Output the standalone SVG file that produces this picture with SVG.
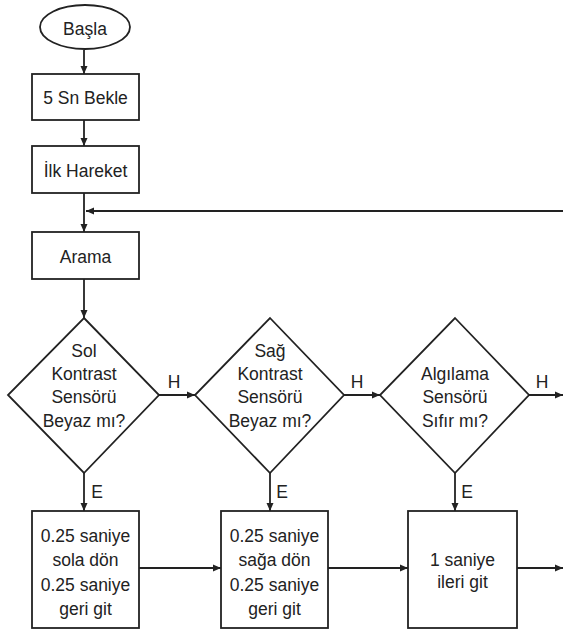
<svg xmlns="http://www.w3.org/2000/svg" width="563" height="630" viewBox="0 0 563 630">
<defs>
<style>
.s{fill:#fff;stroke:#222;stroke-width:1.8}
.c{fill:none;stroke:#222;stroke-width:1.8}
text{font-family:"Liberation Sans",Arial,sans-serif;font-size:17.5px;fill:#222;text-anchor:middle}
.l{text-anchor:start}
</style>
<marker id="a" markerUnits="userSpaceOnUse" markerWidth="8" markerHeight="8" refX="8" refY="4" orient="auto">
<path d="M0,0.5 L8,4 L0,7.5 z" fill="#222"/>
</marker>
</defs>
<rect width="563" height="630" fill="#fff"/>
<g id="connectors">
<line class="c" x1="84" y1="50" x2="84" y2="74" marker-end="url(#a)"/>
<line class="c" x1="84" y1="120" x2="84" y2="146" marker-end="url(#a)"/>
<line class="c" x1="84" y1="193" x2="84" y2="232" marker-end="url(#a)"/>
<line class="c" x1="563" y1="211" x2="86" y2="211" marker-end="url(#a)"/>
<line class="c" x1="84" y1="279" x2="84" y2="318" marker-end="url(#a)"/>
<line class="c" x1="159" y1="395" x2="195" y2="395" marker-end="url(#a)"/>
<line class="c" x1="344" y1="395" x2="380" y2="395" marker-end="url(#a)"/>
<line class="c" x1="529" y1="395" x2="563" y2="395" marker-end="url(#a)"/>
<line class="c" x1="84" y1="473" x2="84" y2="511" marker-end="url(#a)"/>
<line class="c" x1="270" y1="473" x2="270" y2="511" marker-end="url(#a)"/>
<line class="c" x1="455" y1="473" x2="455" y2="511" marker-end="url(#a)"/>
<line class="c" x1="139" y1="568" x2="221" y2="568" marker-end="url(#a)"/>
<line class="c" x1="328" y1="568" x2="408" y2="568" marker-end="url(#a)"/>
<line class="c" x1="517" y1="568" x2="563" y2="568" marker-end="url(#a)"/>
<text x="174" y="388">H</text>
<text x="357" y="388">H</text>
<text x="542" y="388">H</text>
<text x="97" y="498">E</text>
<text x="282" y="498">E</text>
<text x="467" y="498">E</text>
</g>
<g id="basla">
<ellipse class="s" cx="85" cy="27" rx="45" ry="22"/>
<text x="85" y="35">Başla</text>
</g>
<g id="bekle">
<rect class="s" x="32" y="74" width="107" height="46"/>
<text x="85.5" y="104">5 Sn Bekle</text>
</g>
<g id="ilk">
<rect class="s" x="32" y="146" width="107" height="47"/>
<text x="85.5" y="177">İlk Hareket</text>
</g>
<g id="arama">
<rect class="s" x="32" y="232" width="107" height="47"/>
<text x="85.5" y="263">Arama</text>
</g>
<g id="d1">
<polygon class="s" points="84,318 159,395 84,473 8,395"/>
<text x="84" y="357">Sol</text>
<text x="84" y="380">Kontrast</text>
<text x="84" y="403">Sensörü</text>
<text x="84" y="427">Beyaz mı?</text>
</g>
<g id="d2">
<polygon class="s" points="270,318 344,395 270,473 195,395"/>
<text x="270" y="357">Sağ</text>
<text x="270" y="380">Kontrast</text>
<text x="270" y="403">Sensörü</text>
<text x="270" y="427">Beyaz mı?</text>
</g>
<g id="d3">
<polygon class="s" points="455,318 529,395 455,473 380,395"/>
<text x="455" y="380">Algılama</text>
<text x="455" y="403">Sensörü</text>
<text x="455" y="427">Sıfır mı?</text>
</g>
<g id="b1">
<rect class="s" x="32" y="511" width="107" height="117"/>
<text x="85.5" y="542">0.25 saniye</text>
<text x="85.5" y="566">sola dön</text>
<text x="85.5" y="591">0.25 saniye</text>
<text x="85.5" y="615">geri git</text>
</g>
<g id="b2">
<rect class="s" x="221" y="511" width="107" height="117"/>
<text x="274.5" y="542">0.25 saniye</text>
<text x="274.5" y="566">sağa dön</text>
<text x="274.5" y="591">0.25 saniye</text>
<text x="274.5" y="615">geri git</text>
</g>
<g id="b3">
<rect class="s" x="408" y="511" width="109" height="117"/>
<text x="462.5" y="566">1 saniye</text>
<text x="462.5" y="588">ileri git</text>
</g>
</svg>
